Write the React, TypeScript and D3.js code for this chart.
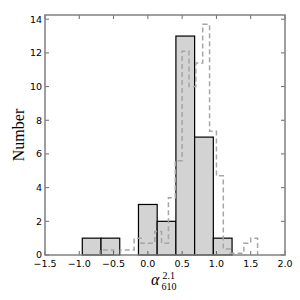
import * as d3 from 'd3'

// solid histogram (counts)
const solidEdges = [-0.956, -0.683, -0.41, -0.137, 0.136, 0.409, 0.682, 0.955, 1.228]
const solidCounts = [1, 1, 0, 3, 2, 13, 7, 1]

// dashed step histogram (scaled)
const dashEdges = [-0.7, -0.6, -0.5, -0.4, -0.3, -0.2, -0.1, 0.0, 0.1, 0.2, 0.3, 0.4, 0.5, 0.6, 0.7, 0.8, 0.9, 1.0, 1.1, 1.2, 1.3, 1.4, 1.5, 1.6]
const dashValues = [0.3, 0.3, 0, 0.3, 0.3, 1.0, 0.7, 0.7, 1.4, 0.7, 3.4, 5.6, 12.1, 10.0, 11.4, 13.7, 7.35, 4.7, 0.35, 0.1, 0.1, 0.7, 1.0]

const xTicks = [-1.5, -1.0, -0.5, 0.0, 0.5, 1.0, 1.5, 2.0]
const yTicks = [0, 2, 4, 6, 8, 10, 12, 14]

const App = () => {
  const left = 45, right = 285, top = 15, bottom = 255
  const x = d3.scaleLinear().domain([-1.5, 2.0]).range([left, right])
  const y = d3.scaleLinear().domain([0, 14.25]).range([bottom, top])

  const fmt = (v: number) => v.toFixed(1).replace('-', '\u2212')

  // build step outline
  const pts: [number, number][] = [[dashEdges[0], 0]]
  dashValues.forEach((v, i) => {
    pts.push([dashEdges[i], v])
    pts.push([dashEdges[i + 1], v])
  })
  pts.push([dashEdges[dashEdges.length - 1], 0])
  const stepLine = d3.line<[number, number]>()
    .x(d => x(d[0]))
    .y(d => y(d[1]))

  const tickColor = '#444'
  const tl = 4

  return (
    <svg width={300} height={300} style={{ position: 'absolute', left: 0, top: 0, background: '#fff' }}>
      {/* bars */}
      {solidCounts.map((c, i) => (
        <rect key={i}
          x={x(solidEdges[i])}
          width={x(solidEdges[i + 1]) - x(solidEdges[i])}
          y={y(c)}
          height={y(0) - y(c)}
          fill="#d3d3d3" stroke="#000" strokeWidth={1.2} />
      ))}

      {/* dashed histogram */}
      <path d={stepLine(pts) || ''} fill="none" stroke="#a6a6a6" strokeWidth={1.5} strokeDasharray="5,3" />

      {/* ticks */}
      {xTicks.map(t => (
        <g key={'x' + t}>
          <line x1={x(t)} x2={x(t)} y1={bottom} y2={bottom - tl} stroke={tickColor} strokeWidth={0.8} />
          <line x1={x(t)} x2={x(t)} y1={top} y2={top + tl} stroke={tickColor} strokeWidth={0.8} />
          <text x={x(t)} y={267} textAnchor="middle" fontFamily="DejaVu Sans" fontSize={9.5} fill="#000">{fmt(t)}</text>
        </g>
      ))}
      {yTicks.map(t => (
        <g key={'y' + t}>
          <line x1={left} x2={left + tl} y1={y(t)} y2={y(t)} stroke={tickColor} strokeWidth={0.8} />
          <line x1={right} x2={right - tl} y1={y(t)} y2={y(t)} stroke={tickColor} strokeWidth={0.8} />
          <text x={42} y={y(t) + 3.3} textAnchor="end" fontFamily="DejaVu Sans" fontSize={9.5} fill="#000">{t}</text>
        </g>
      ))}

      {/* frame */}
      <rect x={left} y={top} width={right - left} height={bottom - top} fill="none" stroke="#808080" strokeWidth={1.5} />

      {/* labels */}
      <text transform="translate(24,135) rotate(-90)" textAnchor="middle" fontFamily="Liberation Serif" fontSize={16} fill="#000">Number</text>
      <text x={151} y={285} fontFamily="Liberation Serif" fontSize={16} fontStyle="italic" fill="#000">α</text>
      <text x={162.5} y={278.5} fontFamily="Liberation Serif" fontSize={10} fill="#000">2.1</text>
      <text x={161.5} y={289.5} fontFamily="Liberation Serif" fontSize={10} fill="#000">610</text>
    </svg>
  )
}

export default App
